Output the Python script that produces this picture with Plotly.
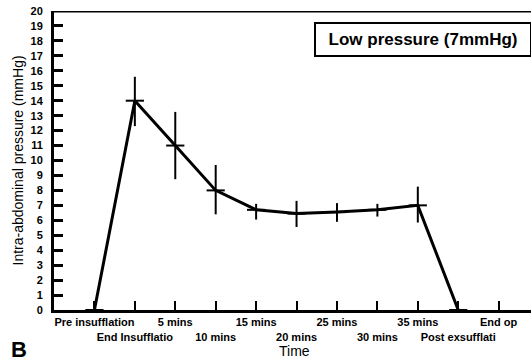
import plotly.graph_objects as go

categories = ["Pre insufflation", "End Insufflatio", "5 mins", "10 mins", "15 mins",
              "20 mins", "25 mins", "30 mins", "35 mins", "Post exsufflati", "End op"]
pressure = [0, 14.0, 11.0, 8.0, 6.7, 6.45, 6.55, 6.7, 7.0, 0, None]
err_plus = [0, 1.6, 2.25, 1.7, 0.4, 0.85, 0.6, 0.4, 1.25, 0, 0]
err_minus = [0, 1.7, 2.25, 1.6, 0.65, 0.9, 0.65, 0.45, 1.15, 0, 0]
y_ticks = list(range(0, 21))

x_idx = list(range(len(categories)))
tick_text = [c if i % 2 == 0 else "<br>" + c for i, c in enumerate(categories)]

FONT = "Liberation Sans, Arial, sans-serif"

fig = go.Figure()
fig.add_trace(go.Scatter(
    x=x_idx, y=pressure, mode="lines+markers",
    line=dict(color="black", width=3),
    marker=dict(symbol="line-ew", size=13, line=dict(color="black", width=2), color="black"),
    error_y=dict(type="data", symmetric=False, array=err_plus, arrayminus=err_minus,
                 color="black", thickness=2, width=0),
    cliponaxis=False, showlegend=False,
))

fig.update_layout(
    width=531, height=361,
    margin=dict(l=54, r=0, t=11, b=51, autoexpand=False),
    paper_bgcolor="white", plot_bgcolor="white",
    font=dict(family=FONT, color="black"),
    xaxis=dict(
        range=[-1, 10.8], tickmode="array", tickvals=x_idx, ticktext=tick_text,
        tickangle=0, automargin=False, ticklabeloverflow="allow",
        ticks="inside", ticklen=9, tickwidth=2, tickcolor="black",
        showline=True, linecolor="black", linewidth=3, showgrid=False, zeroline=False,
        tickfont=dict(size=11, family=FONT, weight="bold"),
    ),
    yaxis=dict(
        range=[0, 20], tickmode="array", tickvals=y_ticks, automargin=False,
        ticklabeloverflow="allow",
        ticks="inside", ticklen=9, tickwidth=3, tickcolor="black",
        showline=True, linecolor="black", linewidth=3, showgrid=False, zeroline=False,
        tickfont=dict(size=11, family=FONT, weight="bold"),
        ticklabelstandoff=6,
    ),
    shapes=[dict(type="line", xref="paper", yref="y", x0=0, x1=1, y0=20, y1=20,
                 line=dict(color="black", width=3))],
    annotations=[
        dict(text="<b>Low pressure (7mmHg)</b>", xref="paper", yref="paper",
             x=1.002, y=0.962, xanchor="right", yanchor="top", showarrow=False,
             font=dict(size=17, family=FONT), bordercolor="black", borderwidth=2,
             borderpad=6, bgcolor="white", width=202),
        dict(text="Intra-abdominal pressure (mmHg)", xref="paper", yref="paper",
             x=-0.0755, y=0.5, xanchor="center", yanchor="middle", textangle=-90,
             showarrow=False, font=dict(size=14, family=FONT)),
        dict(text="Time", xref="paper", yref="paper", x=0.505, y=-0.137,
             xanchor="center", yanchor="middle", showarrow=False,
             font=dict(size=14, family=FONT)),
        dict(text="<b>B</b>", xref="paper", yref="paper", x=-0.094, y=-0.085,
             xanchor="left", yanchor="top", showarrow=False,
             font=dict(size=22, family=FONT)),
    ],
)

fig.write_html("out.html", config={"displayModeBar": False},
               post_script="document.body.style.margin='0px';")
